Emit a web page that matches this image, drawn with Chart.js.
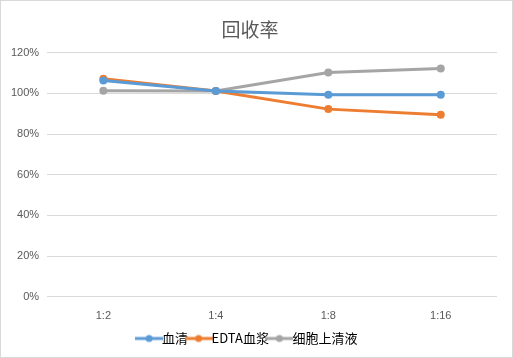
<!DOCTYPE html>
<html>
<head>
<meta charset="UTF-8">
<script src="https://cdn.jsdelivr.net/npm/chart.js"></script>
<style>
  html, body { margin: 0; padding: 0; background: #fff; }
  #wrap { width: 511px; height: 356px; border: 1px solid #d9d9d9; }
</style>
</head>
<body>
<div id="wrap"><canvas id="c" width="511" height="356"></canvas></div>
<script>
// 数据
const categories = ['1:2', '1:4', '1:8', '1:16'];
const serum = [1.064, 1.012, 0.994, 0.994];
const edtaPlasma = [1.072, 1.012, 0.923, 0.895];
const supernatant = [1.013, 1.012, 1.103, 1.123];
const seriesNames = ['血清', 'EDTA血浆', '细胞上清液'];
const colors = ['#5b9bd5', '#ed7d31', '#a5a5a5'];

// legend marker: line with a dot
function marker(color) {
  const cv = document.createElement('canvas');
  cv.width = 28; cv.height = 10;
  const g = cv.getContext('2d');
  g.strokeStyle = color; g.lineWidth = 3;
  g.beginPath(); g.moveTo(0, 5); g.lineTo(28, 5); g.stroke();
  g.fillStyle = color;
  g.beginPath(); g.arc(14, 5, 3.5, 0, Math.PI * 2); g.fill();
  return cv;
}

const values = [serum, edtaPlasma, supernatant];
const datasets = values.map((v, i) => ({
  label: seriesNames[i],
  data: v,
  borderColor: colors[i],
  backgroundColor: colors[i],
  borderWidth: 3,
  pointRadius: 4,
  pointHoverRadius: 4,
  pointBorderWidth: 0,
  pointStyle: 'circle',
  tension: 0
}));

new Chart(document.getElementById('c'), {
  type: 'line',
  data: { labels: categories, datasets: datasets },
  options: {
    responsive: false,
    animation: false,
    layout: { padding: { left: 2, right: 15, top: 8, bottom: 2 } },
    plugins: {
      title: {
        display: true,
        text: '回收率',
        color: '#595959',
        font: { family: 'Noto Sans CJK SC', size: 19, weight: 'normal' },
        padding: { top: 9, bottom: 12 }
      },
      legend: {
        position: 'bottom',
        labels: {
          usePointStyle: true,
          generateLabels: chart => chart.data.datasets.map((d, i) => ({
            text: d.label,
            pointStyle: marker(colors[i]),
            fontColor: '#000',
            datasetIndex: i,
            lineWidth: 0
          })),
          color: '#000',
          padding: 4,
          font: { family: 'Noto Sans CJK SC', size: 13 }
        }
      },
      tooltip: { enabled: false }
    },
    scales: {
      x: {
        offset: true,
        grid: { display: false },
        border: { display: false },
        ticks: { color: '#595959', font: { family: 'Liberation Sans', size: 11 }, padding: 5 }
      },
      y: {
        min: 0, max: 1.2,
        ticks: {
          stepSize: 0.2,
          color: '#595959',
          font: { family: 'Liberation Sans', size: 11 },
          padding: 8,
          callback: v => Math.round(v * 100) + '%'
        },
        grid: { color: '#d9d9d9', drawTicks: false },
        border: { display: false }
      }
    }
  }
});
</script>
</body>
</html>
